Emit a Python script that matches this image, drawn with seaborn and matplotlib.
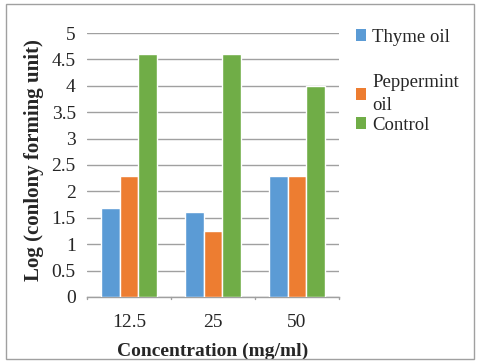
import matplotlib
matplotlib.use("Agg")
import matplotlib.pyplot as plt
import seaborn as sns
import pandas as pd
from matplotlib.patches import Rectangle, Patch

categories = ["12.5", "25", "50"]
thyme = [1.68, 1.60, 2.30]
peppermint = [2.30, 1.25, 2.30]
control = [4.60, 4.60, 4.00]
series_names = ["Thyme oil", "Peppermint oil", "Control"]
legend_labels = ["Thyme oil", "Peppermint\noil", "Control"]
colors = ["#5B9BD5", "#ED7D31", "#70AD47"]
yticks = [0, 0.5, 1, 1.5, 2, 2.5, 3, 3.5, 4, 4.5, 5]
ytick_labels = ["0", "0.5", "1", "1.5", "2", "2.5", "3", "3.5", "4", "4.5", "5"]

rows = []
for s, vals in zip(series_names, [thyme, peppermint, control]):
    for c, v in zip(categories, vals):
        rows.append({"Concentration": c, "Series": s, "Value": v})
df = pd.DataFrame(rows)

sns.set_style("white")
plt.rcParams["font.family"] = ["Liberation Serif", "DejaVu Serif"]

fig = plt.figure(figsize=(4.8, 3.63), dpi=100)
ax = fig.add_axes([0.181, 0.182, 0.525, 0.727])

sns.barplot(data=df, x="Concentration", y="Value", hue="Series",
            order=categories, hue_order=series_names, palette=colors,
            width=0.66, saturation=1, ax=ax, legend=False, zorder=3)

ax.set_ylim(0, 5)
ax.set_xlim(-0.5, 2.5)
ax.set_yticks(yticks)
ax.set_yticklabels(ytick_labels, fontsize=14)
ax.set_xticks([0, 1, 2])
ax.set_xticklabels(categories, fontsize=14)
ax.tick_params(axis="x", length=0, pad=12)
ax.tick_params(axis="y", length=5, color="#A0A0A0", width=1, pad=3)
for t in [-0.5, 0.5, 1.5, 2.5]:
    ax.plot([t, t], [0, -0.035], transform=ax.transData, color="#A0A0A0",
            lw=1, clip_on=False, zorder=4)
ax.yaxis.grid(True, color="#A0A0A0", lw=1, zorder=0)
for s in ["top", "right", "left"]:
    ax.spines[s].set_visible(False)
ax.spines["bottom"].set_color("#A0A0A0")
ax.spines["bottom"].set_linewidth(1)

ax.set_xlabel("Concentration (mg/ml)", fontsize=14, fontweight="bold", labelpad=9)
ax.set_ylabel("Log (conlony forming unit)", fontsize=15, fontweight="bold")
ax.yaxis.set_label_coords(-0.17, 0.52)

# legend: one entry per legend box to reproduce Excel's uneven spacing
legend_y = [37, 94, 125]  # pixel centers from top
for lab, col, yp in zip(legend_labels, colors, legend_y):
    leg = fig.legend([Patch(facecolor=col, edgecolor="none")], [lab],
                     loc="center left", bbox_to_anchor=(0.742, 1 - yp / 363),
                     frameon=False, fontsize=13.5, handlelength=0.55,
                     handleheight=0.55, handletextpad=0.3, borderaxespad=0,
                     borderpad=0)
    for t in leg.get_texts():
        t.set_linespacing(1.45)

fig.patches.append(Rectangle((0.012, 0.012), 0.976, 0.976, transform=fig.transFigure,
                             fill=False, edgecolor="#A0A0A0", lw=1))

fig.savefig("out.png", dpi=100)
